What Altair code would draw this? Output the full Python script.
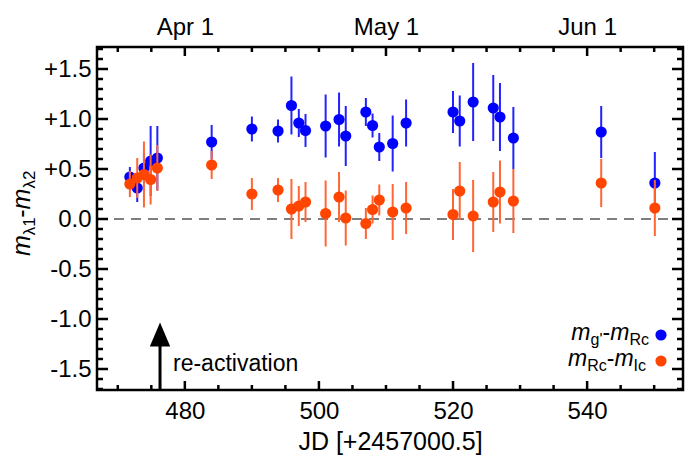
import altair as alt
import pandas as pd

# ---------------- data ----------------
jd = [471.8, 472.9, 473.9, 474.9, 475.9, 484.0, 490.0, 493.9, 495.9, 497.0, 498.0,
      501.0, 503.0, 504.0, 507.0, 508.0, 509.0, 511.0, 513.0, 520.0, 521.0, 523.0,
      526.0, 527.0, 529.0, 542.1, 550.1]
g_rc = [0.42, 0.31, 0.51, 0.58, 0.61, 0.77, 0.90, 0.88, 1.135, 0.96, 0.885,
        0.93, 0.995, 0.83, 1.07, 0.935, 0.72, 0.755, 0.96, 1.07, 0.98, 1.17,
        1.11, 1.02, 0.81, 0.87, 0.36]
g_rc_err = [0.10, 0.14, 0.15, 0.35, 0.32, 0.17, 0.125, 0.115, 0.29, 0.14, 0.165,
            0.315, 0.27, 0.30, 0.14, 0.12, 0.14, 0.28, 0.235, 0.21, 0.255, 0.39,
            0.33, 0.34, 0.31, 0.26, 0.31]
rc_ic = [0.35, 0.41, 0.445, 0.395, 0.51, 0.54, 0.25, 0.29, 0.10, 0.13, 0.17,
         0.055, 0.22, 0.01, -0.045, 0.095, 0.19, 0.07, 0.11, 0.045, 0.28, 0.03,
         0.17, 0.27, 0.18, 0.36, 0.11]
rc_ic_err = [0.13, 0.20, 0.33, 0.25, 0.23, 0.14, 0.16, 0.12, 0.30, 0.20, 0.20,
             0.33, 0.25, 0.275, 0.155, 0.14, 0.155, 0.28, 0.26, 0.255, 0.29, 0.36,
             0.30, 0.315, 0.32, 0.24, 0.28]

bottom_ticks = [480, 500, 520, 540]
bottom_minor = [470, 475, 485, 490, 495, 505, 510, 515, 525, 530, 535, 545, 550]
top_ticks = [480, 510, 540]
top_labels = ["Apr 1", "May 1", "Jun 1"]
top_minor = [470, 475, 485, 490, 495, 500, 505, 515, 520, 525, 530, 535, 545, 550]
y_ticks = [-1.5, -1.0, -0.5, 0.0, 0.5, 1.0, 1.5]
y_minor = [-1.7, -1.6, -1.4, -1.3, -1.2, -1.1, -0.9, -0.8, -0.7, -0.6, -0.4, -0.3,
           -0.2, -0.1, 0.1, 0.2, 0.3, 0.4, 0.6, 0.7, 0.8, 0.9, 1.1, 1.2, 1.3, 1.4,
           1.6, 1.7]

reactivation_jd = 476.3
arrow_y = [-1.71, -1.27]
arrow_head_y = -1.155

x_domain = [466.9, 554.3]
y_domain = [-1.71, 1.72]

# ---------------- styling ----------------
FONT = "Liberation Sans"
W, H = 586, 343
OX, OY = 97, 47          # plot origin on the page
BLUE, BLUE_BAR = "#0000ff", "#2222ff"
ORANGE, ORANGE_BAR = "#ff4500", "#ff6633"
PT = 125

df = pd.DataFrame({
    "jd": jd,
    "gr": g_rc,
    "gr_lo": [v - e for v, e in zip(g_rc, g_rc_err)],
    "gr_hi": [v + e for v, e in zip(g_rc, g_rc_err)],
    "ri": rc_ic,
    "ri_lo": [v - e for v, e in zip(rc_ic, rc_ic_err)],
    "ri_hi": [v + e for v, e in zip(rc_ic, rc_ic_err)],
})

xs = alt.Scale(domain=x_domain, nice=False, zero=False)
ys = alt.Scale(domain=y_domain, nice=False, zero=False)


def X(field, axis=None):
    return alt.X(field, type="quantitative", scale=xs, axis=axis)


def Y(field, axis=None):
    return alt.Y(field, type="quantitative", scale=ys, axis=axis)


layers = []

# zero line
layers.append(alt.Chart(pd.DataFrame({"z": [0.0]})).mark_rule(
    color="#555555", strokeWidth=1.5, strokeDash=[10, 7]).encode(
    y=Y("z"), x=alt.value(0), x2=alt.value(W)))

# data
layers.append(alt.Chart(df).mark_rule(color=BLUE_BAR, strokeWidth=2).encode(
    x=X("jd"), y=Y("gr_lo"), y2="gr_hi"))
layers.append(alt.Chart(df).mark_circle(size=PT, color=BLUE, opacity=1).encode(
    x=X("jd"), y=Y("gr")))
layers.append(alt.Chart(df).mark_rule(color=ORANGE_BAR, strokeWidth=2).encode(
    x=X("jd"), y=Y("ri_lo"), y2="ri_hi"))
layers.append(alt.Chart(df).mark_circle(size=PT, color=ORANGE, opacity=1).encode(
    x=X("jd"), y=Y("ri")))

# arrow
adf = pd.DataFrame({"x": [reactivation_jd], "y0": [arrow_y[0]], "y1": [arrow_y[1]],
                    "yh": [arrow_head_y]})
layers.append(alt.Chart(adf).mark_rule(color="black", strokeWidth=3).encode(
    x=X("x"), y=Y("y0"), y2="y1"))
layers.append(alt.Chart(adf).mark_point(
    shape="M0,-1L0.85,1L-0.85,1Z", size=576, filled=True, color="black",
    opacity=1).encode(x=X("x"), y=Y("yh")))


# inward ticks, placed through the scales
def xticks(values, top, length, name):
    d = pd.DataFrame({name: values})
    y0, y1 = (0, length) if top else (H, H - length)
    return alt.Chart(d).mark_rule(color="black", strokeWidth=2.5).encode(
        x=X(name), y=alt.value(y0), y2=alt.value(y1))


def yticks(values, right, length, name):
    d = pd.DataFrame({name: values})
    x0, x1 = (W, W - length) if right else (0, length)
    return alt.Chart(d).mark_rule(color="black", strokeWidth=2.5).encode(
        y=Y(name), x=alt.value(x0), x2=alt.value(x1))


layers += [xticks(bottom_ticks, False, 9, "bmaj"), xticks(bottom_minor, False, 5, "bmin"),
           xticks(top_ticks, True, 9, "tmaj"), xticks(top_minor, True, 5, "tmin")]
for r, nm in [(False, "l"), (True, "r")]:
    layers += [yticks(y_ticks, r, 11, nm + "maj"), yticks(y_minor, r, 6, nm + "min")]

# frame
layers.append(alt.Chart(pd.DataFrame({"a": [0]})).mark_rect(
    fill=None, stroke="black", strokeWidth=2.5).encode(
    x=alt.value(0), x2=alt.value(W), y=alt.value(0), y2=alt.value(H)))

# axes carrying the labels only
axdf = pd.DataFrame({"x": [500.0], "y": [0.0]})
base_ax = dict(grid=False, labelFont=FONT, titleFont=FONT, labelColor="black",
               titleColor="black", domain=False, tickSize=0, ticks=False)


def axis_layer(xaxis=None, yaxis=None):
    return alt.Chart(axdf).mark_point(opacity=0).encode(
        x=X("x", xaxis), y=Y("y", yaxis))


top_expr = " : ".join(
    f"datum.value == {v} ? '{t}'" for v, t in zip(top_ticks[:-1], top_labels[:-1])
) + f" : '{top_labels[-1]}'"

layers.append(axis_layer(xaxis=alt.Axis(
    orient="bottom", values=bottom_ticks, format="d",
    labelFontSize=24, labelPadding=9, title="JD [+2457000.5]",
    titleFontSize=25, titleFontWeight="normal", titlePadding=6, **base_ax)))
layers.append(axis_layer(xaxis=alt.Axis(
    orient="top", values=top_ticks, labelExpr=top_expr,
    labelFontSize=24, labelPadding=8, title=None, **base_ax)))

y_expr = ("datum.value > 0.001 ? '+' + format(datum.value, '.1f') : "
          "(datum.value < -0.001 ? '-' + format(-datum.value, '.1f') : '0.0')")
layers.append(axis_layer(yaxis=alt.Axis(
    orient="left", values=y_ticks, labelExpr=y_expr,
    labelFontSize=24, labelPadding=6, title=None, **base_ax)))

# ---------------- text annotations ----------------
one = pd.DataFrame({"a": [0]})


def txt(text, x, y, size, italic=False, align="left", angle=0, baseline="alphabetic",
        color="black"):
    kw = dict(text=text, font=FONT, fontSize=size, align=align, baseline=baseline,
              color=color, angle=angle)
    if italic:
        kw["fontStyle"] = "italic"
    return alt.Chart(one).mark_text(**kw).encode(
        x=alt.value(x - OX), y=alt.value(y - OY))


# y-axis title  m_{λ1} - m_{λ2}  (rotated)
ytitle = [("m", 25, True, 0), ("λ1", 17, False, 5), ("-", 25, False, 0),
          ("m", 25, True, 0), ("λ2", 17, False, 5)]
ywidths = [20.8, 17.5, 8.3, 20.8, 17.5]
ypos = 256.0
for (t, s, it, sub), w in zip(ytitle, ywidths):
    layers.append(txt(t, 30 + sub, ypos, s, italic=it, angle=270))
    ypos -= w


# legend
def legend_row(parts, widths, right, base, color, dot_y):
    out = []
    xr = right
    for (t, s, it, sub), w in zip(reversed(parts), reversed(widths)):
        out.append(txt(t, xr, base + sub, s, italic=it, align="right"))
        xr -= w
    out.append(alt.Chart(one).mark_circle(size=PT, color=color, opacity=1).encode(
        x=alt.value(661 - OX), y=alt.value(dot_y - OY)))
    return out


layers += legend_row([("m", 23, True, 0), ("g'", 16, False, 5), ("-", 23, False, 0),
                      ("m", 23, True, 0), ("Rc", 16, False, 5)],
                     [19.2, 12.0, 7.7, 19.2, 19.6], 649, 340, BLUE, 335)
layers += legend_row([("m", 23, True, 0), ("Rc", 16, False, 5), ("-", 23, False, 0),
                      ("m", 23, True, 0), ("Ic", 16, False, 5)],
                     [19.2, 19.6, 7.7, 19.2, 12.4], 646, 366, ORANGE, 361)

layers.append(txt("re-activation", 173, 371, 23))

chart = alt.layer(*layers).resolve_axis(x="independent", y="independent").properties(
    width=W, height=H,
    background="white",
    autosize=alt.AutoSizeParams(type="none"),
    padding={"left": OX - 8, "top": OY - 8, "right": 5, "bottom": 65},
).configure_view(stroke=None)

chart.save("out.html", embed_options={"renderer": "svg", "actions": False})
